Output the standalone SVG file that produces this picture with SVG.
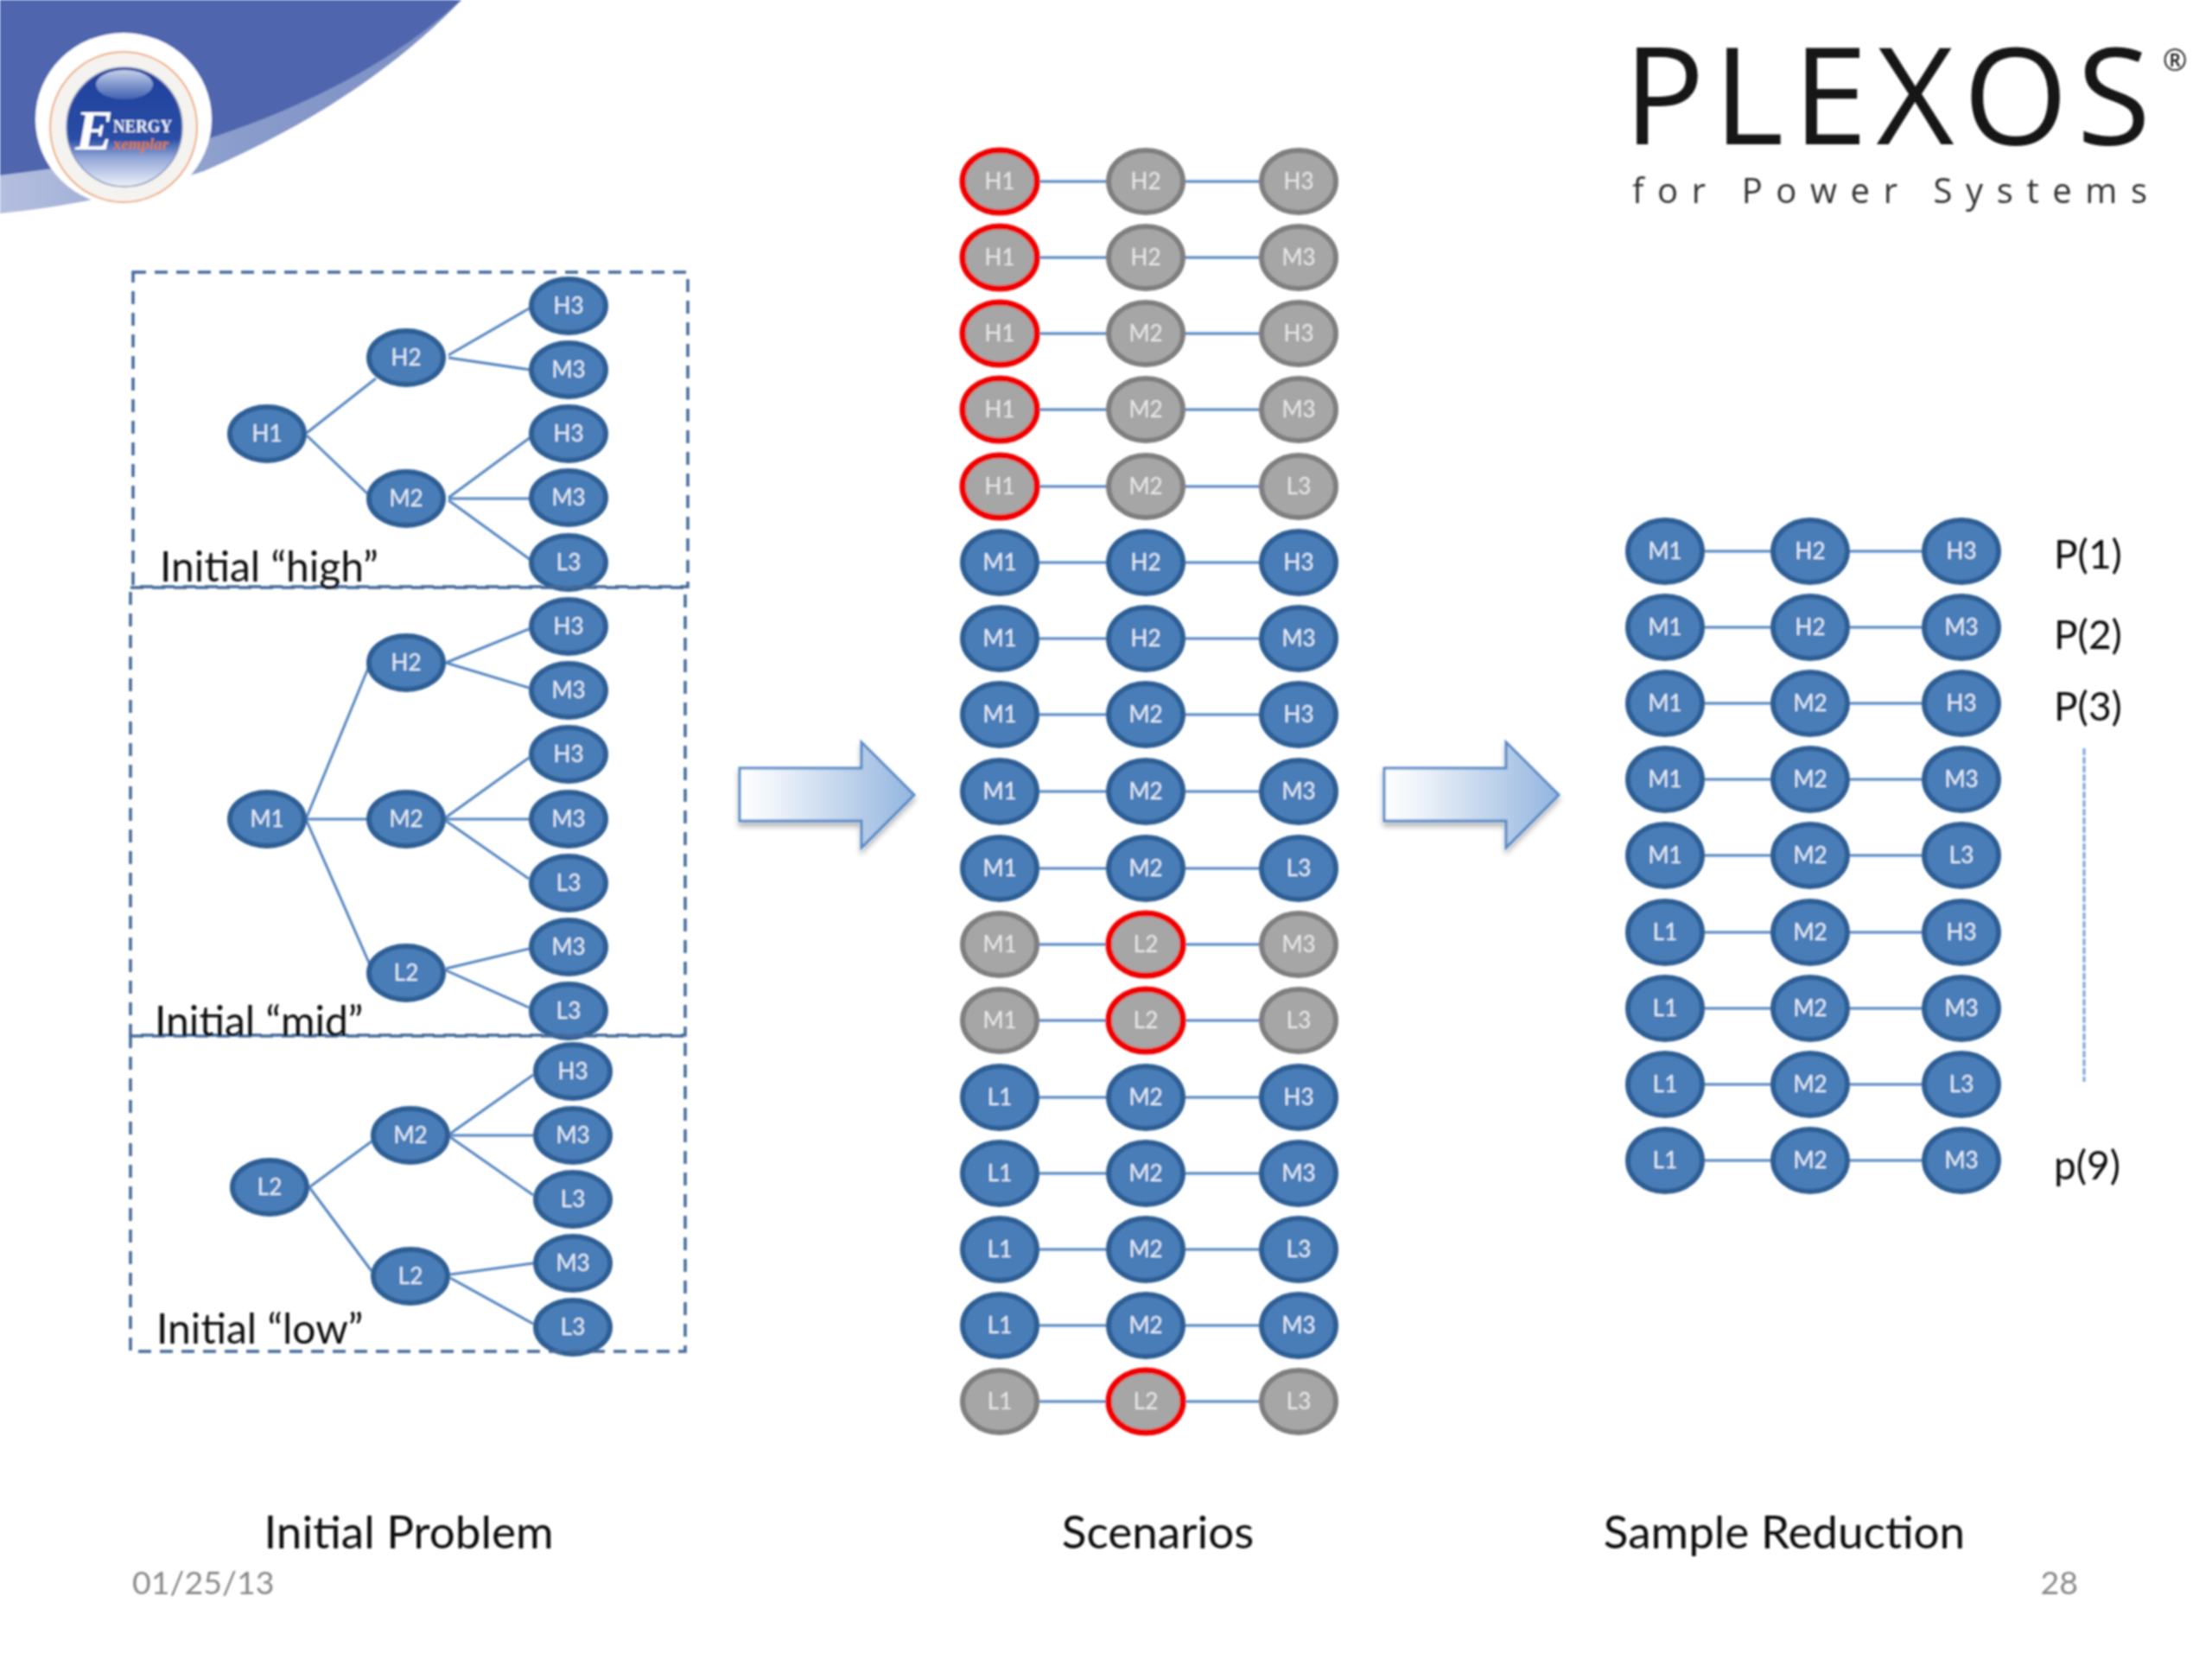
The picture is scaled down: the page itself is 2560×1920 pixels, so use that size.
<svg xmlns="http://www.w3.org/2000/svg" width="2560" height="1920" viewBox="0 0 2560 1920">
<style>
text{font-family:Lato,"Liberation Sans",sans-serif}
.b ellipse{fill:#4a7db8;stroke:#2f5f94;stroke-width:6}
.g ellipse{fill:#a6a6a6;stroke:#7f7f7f;stroke-width:6}
.r ellipse{fill:#a6a6a6;stroke:#f00000;stroke-width:7}
.n text{font-size:26px;text-anchor:middle}
.b text{fill:#e4edf8}
.g text,.r text{fill:#e8e8e8}
#connectors line{stroke:#5585c0;stroke-width:3}
.box{fill:none;stroke:#43699a;stroke-width:3.5;stroke-dasharray:15 10}
.lab{font-size:48px;fill:#111}
.cap{font-size:53px;fill:#111;text-anchor:middle}
.p{font-size:46px;fill:#111}
.foot{font-size:37.5px;fill:#8a8a8a}
.arr{fill:url(#ag);stroke:#5a8ac6;stroke-width:3;filter:url(#sh)}
</style>
<defs>
<linearGradient id="ag" x1="0" x2="1" y1="0" y2="0"><stop offset="0" stop-color="#fff"/><stop offset="0.2" stop-color="#eef3fa"/><stop offset="0.7" stop-color="#b5cce8"/><stop offset="1" stop-color="#93b5df"/></linearGradient>
<linearGradient id="lg" x1="0" x2="0" y1="0" y2="1"><stop offset="0" stop-color="#1f3f9c"/><stop offset="0.6" stop-color="#2a4ea6"/><stop offset="0.75" stop-color="#8ea4d6"/><stop offset="1" stop-color="#eef1fa"/></linearGradient>
<linearGradient id="hl" x1="0" x2="0" y1="0" y2="1"><stop offset="0" stop-color="#c4d0ea"/><stop offset="1" stop-color="#3f5fb0"/></linearGradient>
<linearGradient id="bd" x1="0" x2="1" y1="0" y2="0"><stop offset="0" stop-color="#b4bfdf"/><stop offset="0.5" stop-color="#8b9dcc"/><stop offset="1" stop-color="#7a8dc4"/></linearGradient>
<filter id="sh" x="-10%" y="-10%" width="125%" height="130%"><feGaussianBlur in="SourceAlpha" stdDeviation="3"/><feOffset dy="5" result="o"/><feFlood flood-color="#000" flood-opacity="0.3"/><feComposite in2="o" operator="in"/><feMerge><feMergeNode/><feMergeNode in="SourceGraphic"/></feMerge></filter>
<filter id="soft" x="0" y="0" width="100%" height="100%"><feGaussianBlur stdDeviation="0.8"/></filter>
</defs>
<rect width="2560" height="1920" fill="#fff"/>
<g filter="url(#soft)">
<g id="swoosh">
<path d="M534 0C470 66 380 135 236 198C150 225 70 240 0 247V0Z" fill="url(#bd)"/>
<path d="M534 0C470 58 380 115 243 160C150 185 60 195 0 203V0Z" fill="#5066ae"/>
</g>
<g id="logo">
<ellipse cx="143" cy="138" rx="102" ry="100" fill="#fff"/>
<ellipse cx="143" cy="147" rx="85" ry="87" fill="#f4f3ef" stroke="#f0a878" stroke-width="2"/>
<ellipse cx="144" cy="147" rx="67" ry="69" fill="url(#lg)" stroke="#8590b8" stroke-width="1.5"/>
<ellipse cx="144" cy="98" rx="33" ry="17" fill="url(#hl)"/>
<text x="87" y="173" font-size="66" font-style="italic" font-weight="700" fill="#fff" style="font-family:'Liberation Serif',serif">E</text>
<text x="131" y="153" font-size="21" font-weight="700" fill="#e8eef8" textLength="68" lengthAdjust="spacingAndGlyphs" style="font-family:'Liberation Serif',serif">NERGY</text>
<text x="131" y="173" font-size="19" font-style="italic" font-weight="700" fill="#e07a35" textLength="64" lengthAdjust="spacingAndGlyphs" style="font-family:'Liberation Serif',serif">xemplar</text>
</g>
<g id="plexos-logo">
<text x="1879" y="167" font-size="156" font-weight="500" fill="#151515" textLength="610" lengthAdjust="spacing" style="font-family:'Open Sans',sans-serif">PLEXOS</text>
<text x="2503" y="82" font-size="34" fill="#151515" style="font-family:'Open Sans',sans-serif">®</text>
<text x="1889" y="235" font-size="40" fill="#333" textLength="596" lengthAdjust="spacing" style="font-family:'Open Sans',sans-serif">for Power Systems</text>
</g>
<g transform="translate(0,1)">
<g id="connectors">
<line x1="355" y1="500" x2="435" y2="437"/><line x1="355" y1="503" x2="427" y2="572"/><line x1="519" y1="410" x2="614" y2="355"/><line x1="519" y1="413" x2="614" y2="427"/><line x1="519" y1="575" x2="614" y2="505"/><line x1="519" y1="576" x2="614" y2="576"/><line x1="519" y1="578" x2="614" y2="647"/>
<line x1="354" y1="947" x2="427" y2="770"/><line x1="354" y1="947" x2="425" y2="947"/><line x1="354" y1="947" x2="430" y2="1120"/><line x1="516" y1="766" x2="612" y2="727"/><line x1="516" y1="766" x2="612" y2="795"/><line x1="516" y1="945" x2="612" y2="876"/><line x1="516" y1="947" x2="612" y2="947"/><line x1="516" y1="949" x2="612" y2="1016"/><line x1="516" y1="1120" x2="612" y2="1097"/><line x1="516" y1="1122" x2="612" y2="1165"/>
<line x1="358" y1="1373" x2="430" y2="1320"/><line x1="358" y1="1373" x2="430" y2="1470"/><line x1="521" y1="1311" x2="617" y2="1243"/><line x1="521" y1="1313" x2="617" y2="1313"/><line x1="521" y1="1315" x2="617" y2="1382"/><line x1="521" y1="1474" x2="617" y2="1461"/><line x1="521" y1="1478" x2="617" y2="1531"/>
<line x1="1203" y1="209" x2="1280" y2="209"/><line x1="1372" y1="209" x2="1457" y2="209"/>
<line x1="1203" y1="297" x2="1280" y2="297"/><line x1="1372" y1="297" x2="1457" y2="297"/>
<line x1="1203" y1="385" x2="1280" y2="385"/><line x1="1372" y1="385" x2="1457" y2="385"/>
<line x1="1203" y1="473" x2="1280" y2="473"/><line x1="1372" y1="473" x2="1457" y2="473"/>
<line x1="1203" y1="562" x2="1280" y2="562"/><line x1="1372" y1="562" x2="1457" y2="562"/>
<line x1="1203" y1="650" x2="1280" y2="650"/><line x1="1372" y1="650" x2="1457" y2="650"/>
<line x1="1203" y1="738" x2="1280" y2="738"/><line x1="1372" y1="738" x2="1457" y2="738"/>
<line x1="1203" y1="826" x2="1280" y2="826"/><line x1="1372" y1="826" x2="1457" y2="826"/>
<line x1="1203" y1="915" x2="1280" y2="915"/><line x1="1372" y1="915" x2="1457" y2="915"/>
<line x1="1203" y1="1004" x2="1280" y2="1004"/><line x1="1372" y1="1004" x2="1457" y2="1004"/>
<line x1="1203" y1="1092" x2="1280" y2="1092"/><line x1="1372" y1="1092" x2="1457" y2="1092"/>
<line x1="1203" y1="1180" x2="1280" y2="1180"/><line x1="1372" y1="1180" x2="1457" y2="1180"/>
<line x1="1203" y1="1269" x2="1280" y2="1269"/><line x1="1372" y1="1269" x2="1457" y2="1269"/>
<line x1="1203" y1="1357" x2="1280" y2="1357"/><line x1="1372" y1="1357" x2="1457" y2="1357"/>
<line x1="1203" y1="1445" x2="1280" y2="1445"/><line x1="1372" y1="1445" x2="1457" y2="1445"/>
<line x1="1203" y1="1533" x2="1280" y2="1533"/><line x1="1372" y1="1533" x2="1457" y2="1533"/>
<line x1="1203" y1="1621" x2="1280" y2="1621"/><line x1="1372" y1="1621" x2="1457" y2="1621"/>
<line x1="1973" y1="637" x2="2049" y2="637"/><line x1="2141" y1="637" x2="2224" y2="637"/>
<line x1="1973" y1="725" x2="2049" y2="725"/><line x1="2141" y1="725" x2="2224" y2="725"/>
<line x1="1973" y1="813" x2="2049" y2="813"/><line x1="2141" y1="813" x2="2224" y2="813"/>
<line x1="1973" y1="901" x2="2049" y2="901"/><line x1="2141" y1="901" x2="2224" y2="901"/>
<line x1="1973" y1="989" x2="2049" y2="989"/><line x1="2141" y1="989" x2="2224" y2="989"/>
<line x1="1973" y1="1078" x2="2049" y2="1078"/><line x1="2141" y1="1078" x2="2224" y2="1078"/>
<line x1="1973" y1="1166" x2="2049" y2="1166"/><line x1="2141" y1="1166" x2="2224" y2="1166"/>
<line x1="1973" y1="1254" x2="2049" y2="1254"/><line x1="2141" y1="1254" x2="2224" y2="1254"/>
<line x1="1973" y1="1342" x2="2049" y2="1342"/><line x1="2141" y1="1342" x2="2224" y2="1342"/>
</g>
<g id="tree-high">
<g id="a1" class="n b" transform="translate(309,501)"><ellipse rx="43" ry="31"/><text y="9">H1</text></g>
<g id="a2" class="n b" transform="translate(470,413)"><ellipse rx="43" ry="31"/><text y="9">H2</text></g>
<g id="a3" class="n b" transform="translate(470,576)"><ellipse rx="43" ry="31"/><text y="9">M2</text></g>
<g id="a4" class="n b" transform="translate(658,353)"><ellipse rx="43" ry="31"/><text y="9">H3</text></g>
<g id="a5" class="n b" transform="translate(658,427)"><ellipse rx="43" ry="31"/><text y="9">M3</text></g>
<g id="a6" class="n b" transform="translate(658,501)"><ellipse rx="43" ry="31"/><text y="9">H3</text></g>
<g id="a7" class="n b" transform="translate(658,575)"><ellipse rx="43" ry="31"/><text y="9">M3</text></g>
<g id="a8" class="n b" transform="translate(658,650)"><ellipse rx="43" ry="31"/><text y="9">L3</text></g>
</g>
<g id="tree-mid">
<g id="b1" class="n b" transform="translate(309,947)"><ellipse rx="43" ry="31"/><text y="9">M1</text></g>
<g id="b2" class="n b" transform="translate(470,766)"><ellipse rx="43" ry="31"/><text y="9">H2</text></g>
<g id="b3" class="n b" transform="translate(470,947)"><ellipse rx="43" ry="31"/><text y="9">M2</text></g>
<g id="b4" class="n b" transform="translate(470,1125)"><ellipse rx="43" ry="31"/><text y="9">L2</text></g>
<g id="b5" class="n b" transform="translate(658,724)"><ellipse rx="43" ry="31"/><text y="9">H3</text></g>
<g id="b6" class="n b" transform="translate(658,798)"><ellipse rx="43" ry="31"/><text y="9">M3</text></g>
<g id="b7" class="n b" transform="translate(658,872)"><ellipse rx="43" ry="31"/><text y="9">H3</text></g>
<g id="b8" class="n b" transform="translate(658,947)"><ellipse rx="43" ry="31"/><text y="9">M3</text></g>
<g id="b9" class="n b" transform="translate(658,1021)"><ellipse rx="43" ry="31"/><text y="9">L3</text></g>
<g id="b10" class="n b" transform="translate(658,1095)"><ellipse rx="43" ry="31"/><text y="9">M3</text></g>
<g id="b11" class="n b" transform="translate(658,1169)"><ellipse rx="43" ry="31"/><text y="9">L3</text></g>
</g>
<g id="tree-low">
<g id="c1" class="n b" transform="translate(312,1373)"><ellipse rx="43" ry="31"/><text y="9">L2</text></g>
<g id="c2" class="n b" transform="translate(475,1313)"><ellipse rx="43" ry="31"/><text y="9">M2</text></g>
<g id="c3" class="n b" transform="translate(475,1476)"><ellipse rx="43" ry="31"/><text y="9">L2</text></g>
<g id="c4" class="n b" transform="translate(663,1239)"><ellipse rx="43" ry="31"/><text y="9">H3</text></g>
<g id="c5" class="n b" transform="translate(663,1313)"><ellipse rx="43" ry="31"/><text y="9">M3</text></g>
<g id="c6" class="n b" transform="translate(663,1387)"><ellipse rx="43" ry="31"/><text y="9">L3</text></g>
<g id="c7" class="n b" transform="translate(663,1461)"><ellipse rx="43" ry="31"/><text y="9">M3</text></g>
<g id="c8" class="n b" transform="translate(663,1535)"><ellipse rx="43" ry="31"/><text y="9">L3</text></g>
</g>
<g id="scenarios">
<g id="s1a" class="n r" transform="translate(1157,209)"><ellipse rx="43" ry="36"/><text y="9">H1</text></g><g id="s1b" class="n g" transform="translate(1326,209)"><ellipse rx="43" ry="36"/><text y="9">H2</text></g><g id="s1c" class="n g" transform="translate(1503,209)"><ellipse rx="43" ry="36"/><text y="9">H3</text></g>
<g id="s2a" class="n r" transform="translate(1157,297)"><ellipse rx="43" ry="36"/><text y="9">H1</text></g><g id="s2b" class="n g" transform="translate(1326,297)"><ellipse rx="43" ry="36"/><text y="9">H2</text></g><g id="s2c" class="n g" transform="translate(1503,297)"><ellipse rx="43" ry="36"/><text y="9">M3</text></g>
<g id="s3a" class="n r" transform="translate(1157,385)"><ellipse rx="43" ry="36"/><text y="9">H1</text></g><g id="s3b" class="n g" transform="translate(1326,385)"><ellipse rx="43" ry="36"/><text y="9">M2</text></g><g id="s3c" class="n g" transform="translate(1503,385)"><ellipse rx="43" ry="36"/><text y="9">H3</text></g>
<g id="s4a" class="n r" transform="translate(1157,473)"><ellipse rx="43" ry="36"/><text y="9">H1</text></g><g id="s4b" class="n g" transform="translate(1326,473)"><ellipse rx="43" ry="36"/><text y="9">M2</text></g><g id="s4c" class="n g" transform="translate(1503,473)"><ellipse rx="43" ry="36"/><text y="9">M3</text></g>
<g id="s5a" class="n r" transform="translate(1157,562)"><ellipse rx="43" ry="36"/><text y="9">H1</text></g><g id="s5b" class="n g" transform="translate(1326,562)"><ellipse rx="43" ry="36"/><text y="9">M2</text></g><g id="s5c" class="n g" transform="translate(1503,562)"><ellipse rx="43" ry="36"/><text y="9">L3</text></g>
<g id="s6a" class="n b" transform="translate(1157,650)"><ellipse rx="43" ry="36"/><text y="9">M1</text></g><g id="s6b" class="n b" transform="translate(1326,650)"><ellipse rx="43" ry="36"/><text y="9">H2</text></g><g id="s6c" class="n b" transform="translate(1503,650)"><ellipse rx="43" ry="36"/><text y="9">H3</text></g>
<g id="s7a" class="n b" transform="translate(1157,738)"><ellipse rx="43" ry="36"/><text y="9">M1</text></g><g id="s7b" class="n b" transform="translate(1326,738)"><ellipse rx="43" ry="36"/><text y="9">H2</text></g><g id="s7c" class="n b" transform="translate(1503,738)"><ellipse rx="43" ry="36"/><text y="9">M3</text></g>
<g id="s8a" class="n b" transform="translate(1157,826)"><ellipse rx="43" ry="36"/><text y="9">M1</text></g><g id="s8b" class="n b" transform="translate(1326,826)"><ellipse rx="43" ry="36"/><text y="9">M2</text></g><g id="s8c" class="n b" transform="translate(1503,826)"><ellipse rx="43" ry="36"/><text y="9">H3</text></g>
<g id="s9a" class="n b" transform="translate(1157,915)"><ellipse rx="43" ry="36"/><text y="9">M1</text></g><g id="s9b" class="n b" transform="translate(1326,915)"><ellipse rx="43" ry="36"/><text y="9">M2</text></g><g id="s9c" class="n b" transform="translate(1503,915)"><ellipse rx="43" ry="36"/><text y="9">M3</text></g>
<g id="s10a" class="n b" transform="translate(1157,1004)"><ellipse rx="43" ry="36"/><text y="9">M1</text></g><g id="s10b" class="n b" transform="translate(1326,1004)"><ellipse rx="43" ry="36"/><text y="9">M2</text></g><g id="s10c" class="n b" transform="translate(1503,1004)"><ellipse rx="43" ry="36"/><text y="9">L3</text></g>
<g id="s11a" class="n g" transform="translate(1157,1092)"><ellipse rx="43" ry="36"/><text y="9">M1</text></g><g id="s11b" class="n r" transform="translate(1326,1092)"><ellipse rx="43" ry="36"/><text y="9">L2</text></g><g id="s11c" class="n g" transform="translate(1503,1092)"><ellipse rx="43" ry="36"/><text y="9">M3</text></g>
<g id="s12a" class="n g" transform="translate(1157,1180)"><ellipse rx="43" ry="36"/><text y="9">M1</text></g><g id="s12b" class="n r" transform="translate(1326,1180)"><ellipse rx="43" ry="36"/><text y="9">L2</text></g><g id="s12c" class="n g" transform="translate(1503,1180)"><ellipse rx="43" ry="36"/><text y="9">L3</text></g>
<g id="s13a" class="n b" transform="translate(1157,1269)"><ellipse rx="43" ry="36"/><text y="9">L1</text></g><g id="s13b" class="n b" transform="translate(1326,1269)"><ellipse rx="43" ry="36"/><text y="9">M2</text></g><g id="s13c" class="n b" transform="translate(1503,1269)"><ellipse rx="43" ry="36"/><text y="9">H3</text></g>
<g id="s14a" class="n b" transform="translate(1157,1357)"><ellipse rx="43" ry="36"/><text y="9">L1</text></g><g id="s14b" class="n b" transform="translate(1326,1357)"><ellipse rx="43" ry="36"/><text y="9">M2</text></g><g id="s14c" class="n b" transform="translate(1503,1357)"><ellipse rx="43" ry="36"/><text y="9">M3</text></g>
<g id="s15a" class="n b" transform="translate(1157,1445)"><ellipse rx="43" ry="36"/><text y="9">L1</text></g><g id="s15b" class="n b" transform="translate(1326,1445)"><ellipse rx="43" ry="36"/><text y="9">M2</text></g><g id="s15c" class="n b" transform="translate(1503,1445)"><ellipse rx="43" ry="36"/><text y="9">L3</text></g>
<g id="s16a" class="n b" transform="translate(1157,1533)"><ellipse rx="43" ry="36"/><text y="9">L1</text></g><g id="s16b" class="n b" transform="translate(1326,1533)"><ellipse rx="43" ry="36"/><text y="9">M2</text></g><g id="s16c" class="n b" transform="translate(1503,1533)"><ellipse rx="43" ry="36"/><text y="9">M3</text></g>
<g id="s17a" class="n g" transform="translate(1157,1621)"><ellipse rx="43" ry="36"/><text y="9">L1</text></g><g id="s17b" class="n r" transform="translate(1326,1621)"><ellipse rx="43" ry="36"/><text y="9">L2</text></g><g id="s17c" class="n g" transform="translate(1503,1621)"><ellipse rx="43" ry="36"/><text y="9">L3</text></g>
</g>
<g id="reduction">
<g id="r1a" class="n b" transform="translate(1927,637)"><ellipse rx="43" ry="36"/><text y="9">M1</text></g><g id="r1b" class="n b" transform="translate(2095,637)"><ellipse rx="43" ry="36"/><text y="9">H2</text></g><g id="r1c" class="n b" transform="translate(2270,637)"><ellipse rx="43" ry="36"/><text y="9">H3</text></g>
<g id="r2a" class="n b" transform="translate(1927,725)"><ellipse rx="43" ry="36"/><text y="9">M1</text></g><g id="r2b" class="n b" transform="translate(2095,725)"><ellipse rx="43" ry="36"/><text y="9">H2</text></g><g id="r2c" class="n b" transform="translate(2270,725)"><ellipse rx="43" ry="36"/><text y="9">M3</text></g>
<g id="r3a" class="n b" transform="translate(1927,813)"><ellipse rx="43" ry="36"/><text y="9">M1</text></g><g id="r3b" class="n b" transform="translate(2095,813)"><ellipse rx="43" ry="36"/><text y="9">M2</text></g><g id="r3c" class="n b" transform="translate(2270,813)"><ellipse rx="43" ry="36"/><text y="9">H3</text></g>
<g id="r4a" class="n b" transform="translate(1927,901)"><ellipse rx="43" ry="36"/><text y="9">M1</text></g><g id="r4b" class="n b" transform="translate(2095,901)"><ellipse rx="43" ry="36"/><text y="9">M2</text></g><g id="r4c" class="n b" transform="translate(2270,901)"><ellipse rx="43" ry="36"/><text y="9">M3</text></g>
<g id="r5a" class="n b" transform="translate(1927,989)"><ellipse rx="43" ry="36"/><text y="9">M1</text></g><g id="r5b" class="n b" transform="translate(2095,989)"><ellipse rx="43" ry="36"/><text y="9">M2</text></g><g id="r5c" class="n b" transform="translate(2270,989)"><ellipse rx="43" ry="36"/><text y="9">L3</text></g>
<g id="r6a" class="n b" transform="translate(1927,1078)"><ellipse rx="43" ry="36"/><text y="9">L1</text></g><g id="r6b" class="n b" transform="translate(2095,1078)"><ellipse rx="43" ry="36"/><text y="9">M2</text></g><g id="r6c" class="n b" transform="translate(2270,1078)"><ellipse rx="43" ry="36"/><text y="9">H3</text></g>
<g id="r7a" class="n b" transform="translate(1927,1166)"><ellipse rx="43" ry="36"/><text y="9">L1</text></g><g id="r7b" class="n b" transform="translate(2095,1166)"><ellipse rx="43" ry="36"/><text y="9">M2</text></g><g id="r7c" class="n b" transform="translate(2270,1166)"><ellipse rx="43" ry="36"/><text y="9">M3</text></g>
<g id="r8a" class="n b" transform="translate(1927,1254)"><ellipse rx="43" ry="36"/><text y="9">L1</text></g><g id="r8b" class="n b" transform="translate(2095,1254)"><ellipse rx="43" ry="36"/><text y="9">M2</text></g><g id="r8c" class="n b" transform="translate(2270,1254)"><ellipse rx="43" ry="36"/><text y="9">L3</text></g>
<g id="r9a" class="n b" transform="translate(1927,1342)"><ellipse rx="43" ry="36"/><text y="9">L1</text></g><g id="r9b" class="n b" transform="translate(2095,1342)"><ellipse rx="43" ry="36"/><text y="9">M2</text></g><g id="r9c" class="n b" transform="translate(2270,1342)"><ellipse rx="43" ry="36"/><text y="9">M3</text></g>
</g>
<g id="boxes">
<rect class="box" x="154" y="314" width="642" height="364"/>
<rect class="box" x="151" y="679" width="642" height="518"/>
<rect class="box" x="151" y="1198" width="642" height="365"/>
</g>
<g id="arrows">
<path class="arr" d="M856 888H997V858L1058 919L997 980V949H856Z"/>
<path class="arr" d="M1602 888H1743V858L1804 919L1743 980V949H1602Z"/>
</g>
<line id="ellipsis" x1="2412" y1="865" x2="2412" y2="1251" stroke="#7aa3d6" stroke-width="3" stroke-dasharray="8 2"/>
<g id="labels">
<text class="lab" x="185" y="672">Initial “high”</text>
<text class="lab" x="179" y="1198">Initial “mid”</text>
<text class="lab" x="181" y="1554">Initial “low”</text>
<text class="p" x="2377" y="657">P(1)</text>
<text class="p" x="2377" y="750">P(2)</text>
<text class="p" x="2377" y="833">P(3)</text>
<text class="p" x="2377" y="1364">p(9)</text>
<text class="cap" x="473" y="1791">Initial Problem</text>
<text class="cap" x="1340" y="1791">Scenarios</text>
<text class="cap" x="2065" y="1791">Sample Reduction</text>
<text class="foot" x="153" y="1844">01/25/13</text>
<text class="foot" x="2405" y="1844" text-anchor="end">28</text>
</g>
</g>
</g>
</svg>
